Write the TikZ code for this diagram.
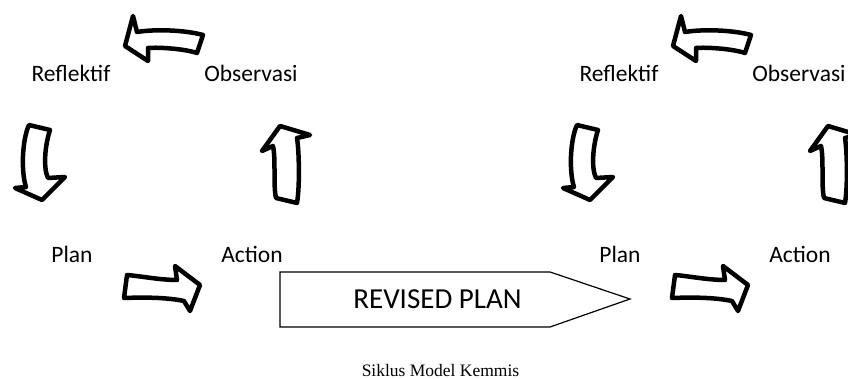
\documentclass[tikz,border=0pt]{standalone}
\usepackage{fontspec}
\setmainfont{Carlito}
\newfontfamily\captionserif{Liberation Serif}

\tikzset{
  blockarrow/.style={draw=black, fill=white, line width=4.5pt, line join=round},
  cyclabel/.style={inner sep=0pt, anchor=base, font=\fontsize{23.5}{27}\selectfont},
  % one Plan -> Action -> Observasi -> Reflektif cycle
  kemmis/.pic={
    \node[cyclabel] (-refl) at (71,82)  {Reflektif};
    \node[cyclabel] (-obs)  at (251,82) {Observasi};
    \node[cyclabel] (-plan) at (72,262) {Plan};
    \node[cyclabel] (-act)  at (252,262) {Action};
    % Observasi -> Reflektif (points left)
    \draw[blockarrow] (125,46) -- (133,16) -- (137,32)
      .. controls (155,29) and (185,30) .. (203,35) -- (197,53)
      .. controls (185,49) and (160,47) .. (148,48) -- (148,61) -- cycle;
    % Reflektif -> Plan (points down)
    \draw[blockarrow] (29,125) -- (50,130)
      .. controls (45,145) and (43,168) .. (48,178) -- (65,177) -- (42,200)
      -- (15,188) -- (26,187) .. controls (21,172) and (22,140) .. cycle;
    % Action -> Observasi (points up)
    \draw[blockarrow] (276,198) -- (297,203)
      .. controls (300,185) and (299,150) .. (297,138) -- (310,135) -- (280,126)
      -- (262,151) -- (273,146) .. controls (276,160) and (273,185) .. cycle;
    % Plan -> Action (points right)
    \draw[blockarrow] (127,275) -- (124,298)
      .. controls (150,297) and (170,298) .. (184,301) -- (190,311) -- (200,285)
      -- (175,266) -- (177,280) .. controls (160,280) and (140,276) .. cycle;
  }
}

\begin{document}
\begin{tikzpicture}[x=1pt, y=-1pt]
  \useasboundingbox (0,0) rectangle (848,379);
  \clip (0,0) rectangle (848,379);
  \fill[white] (0,0) rectangle (848,379);

  \pic (first)  at (0,0)   {kemmis};
  \pic (second) at (548,0) {kemmis};

  % revised plan banner between the two cycles
  \draw[line width=1.2pt, fill=white] (280,272) -- (550,272) -- (630,299)
    -- (550,327) -- (280,327) -- cycle;
  \node[inner sep=0pt, anchor=base, font=\fontsize{29}{33}\selectfont]
    (revised) at (437.5,308) {REVISED PLAN};

  \node[inner sep=0pt, anchor=base, font=\captionserif\fontsize{17.5}{21}\selectfont]
    (caption) at (440.5,376) {Siklus Model Kemmis};
\end{tikzpicture}
\end{document}
